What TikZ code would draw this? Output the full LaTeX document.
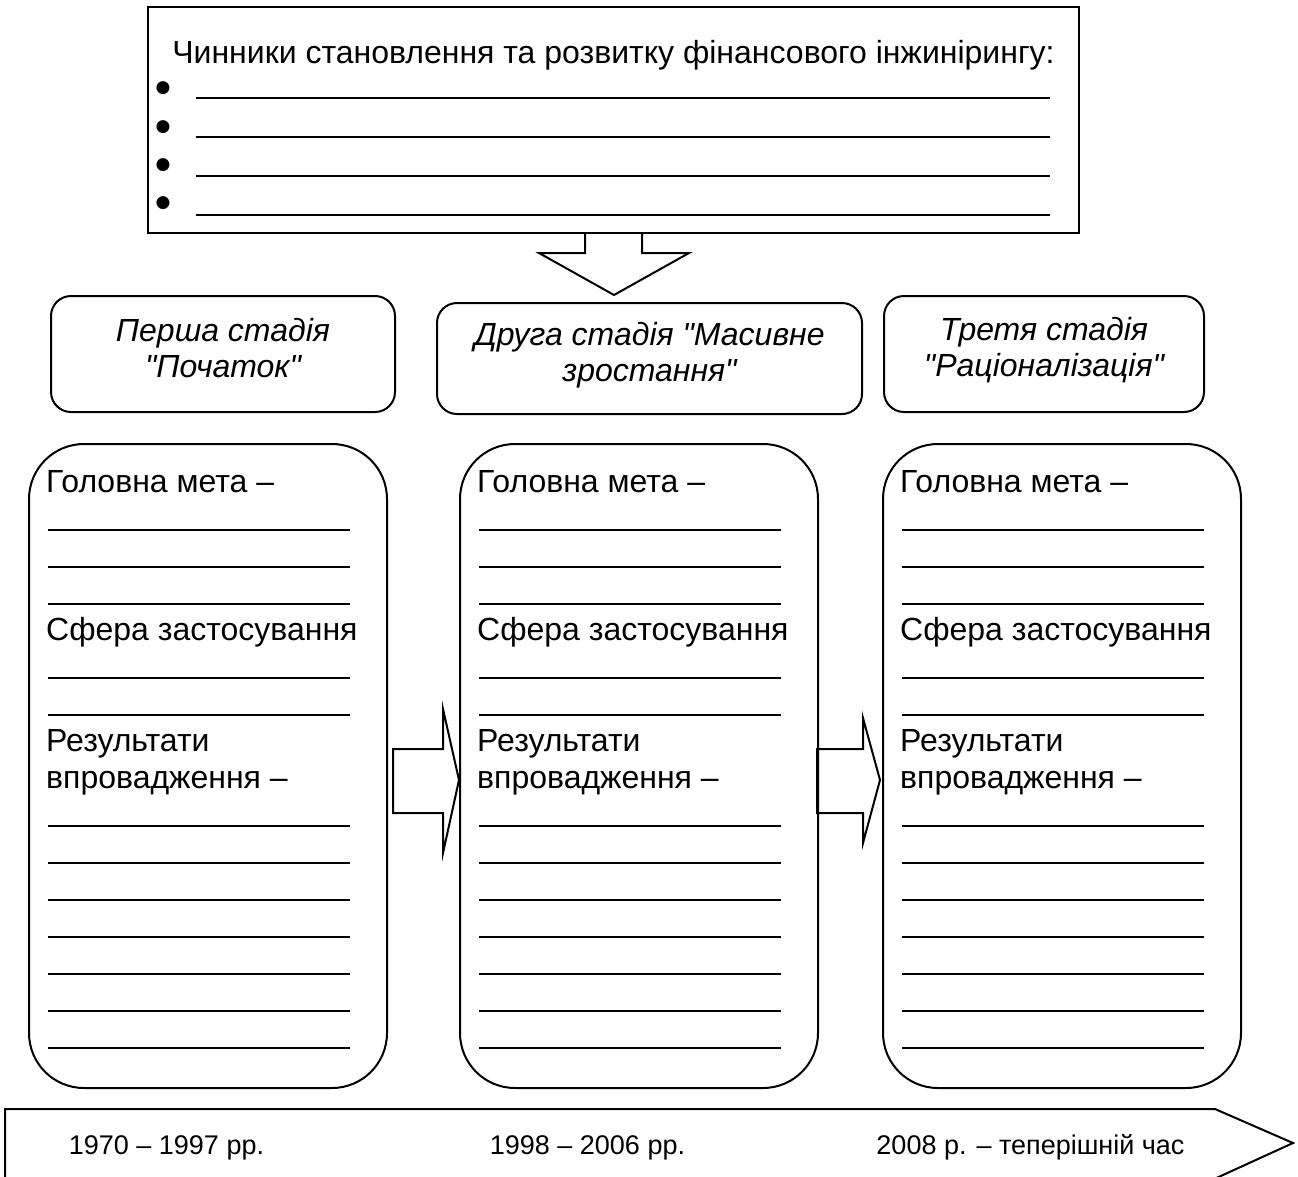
\documentclass[tikz,border=0pt]{standalone}
\usepackage{fontspec}
\setmainfont{Liberation Sans}[Ligatures=TeXOff]
\newfontfamily\dejavu{DejaVu Sans}
\begin{document}
\begin{tikzpicture}[x=1pt,y=-1pt,
  box/.style={draw, line width=2pt, inner sep=0pt},
  bigbox/.style={box, rounded corners=55pt, minimum width=358pt, minimum height=644pt, anchor=north west},
  hdr/.style={box, rounded corners=20pt, anchor=north west},
  htxt/.style={inner sep=0pt, align=center, font=\itshape\fontsize{32}{36}\selectfont},
  txt/.style={anchor=base west, inner sep=0pt, font=\fontsize{32}{36}\selectfont},
  ctxt/.style={anchor=base, inner sep=0pt, font=\fontsize{32}{36}\selectfont},
  bullet/.style={anchor=center, inner sep=0pt, font=\dejavu\fontsize{17}{17}\selectfont},
  yr/.style={anchor=base, inner sep=0pt, font=\fontsize{27}{30}\selectfont},
  blank/.style={line width=1.4pt},
  blockarrow/.style={line width=2pt, line join=miter}]
\useasboundingbox (0,0) rectangle (1298,1176);

% top box
\node[box, minimum width=931pt, minimum height=226pt, anchor=north west] (top) at (147,6) {};
\node[ctxt] (title) at (613.5,63) {Чинники становлення та розвитку фінансового інжинірингу:};
\foreach \y/\c [count=\k] in {98/88,137/127,176/165,215/203} {
  \node[bullet] (bul\k) at (163,\c) {●};
  \draw[blank] (196,\y) -- (1050,\y);
}

% down arrow
\draw[blockarrow] (585,232) -- (585,253) -- (539,253) -- (614,295) -- (689,253) -- (642,253) -- (642,232);

% stage headers
\node[hdr, minimum width=344pt, minimum height=116pt] (h1) at (50,295) {};
\node[hdr, minimum width=425pt, minimum height=111pt] (h2) at (436,302) {};
\node[hdr, minimum width=320pt, minimum height=116pt] (h3) at (883,295) {};
\node[htxt] (h1t) at ([yshift=6pt]h1.center) {Перша стадія\\"Початок"};
\node[htxt] (h2t) at ([yshift=3pt]h2.center) {Друга стадія "Масивне\\зростання"};
\node[htxt] (h3t) at ([yshift=4pt]h3.center) {Третя стадія\\"Раціоналізація"};

% stage boxes
\foreach \L/\n in {28/1,459/2,882/3} {
  \node[bigbox] (b\n) at (\L,443) {};
  \node[txt] (goal\n) at (\L+18,492) {Головна мета –};
  \node[txt] (sph\n) at (\L+18,640) {Сфера застосування};
  \node[txt] (res\n) at (\L+18,751) {Результати};
  \node[txt] (impl\n) at (\L+18,788) {впровадження –};
  \foreach \y in {530,567,604,678,715,826,863,900,937,974,1011,1048}
    \draw[blank] (\L+20,\y) -- (\L+322,\y);
}

% right arrows
\draw[blockarrow] (393,749) -- (443,749) -- (443,709) -- (459,780) -- (443,853) -- (443,813) -- (393,813) -- cycle;
\draw[blockarrow] (817,749) -- (863,749) -- (863,718) -- (880,780) -- (863,843) -- (863,813) -- (817,813) -- cycle;

% time arrow
\draw[blockarrow] (5,1109) -- (1215,1109) -- (1293,1143) -- (1212,1180) -- (5,1180) -- cycle;
\node[yr] (y1) at (166.5,1154) {1970 – 1997 рр.};
\node[yr] (y2) at (587.5,1154) {1998 – 2006 рр.};
\node[yr] (y3) at (1030.5,1154) {2008 р. – теперішній час};
\end{tikzpicture}
\end{document}
